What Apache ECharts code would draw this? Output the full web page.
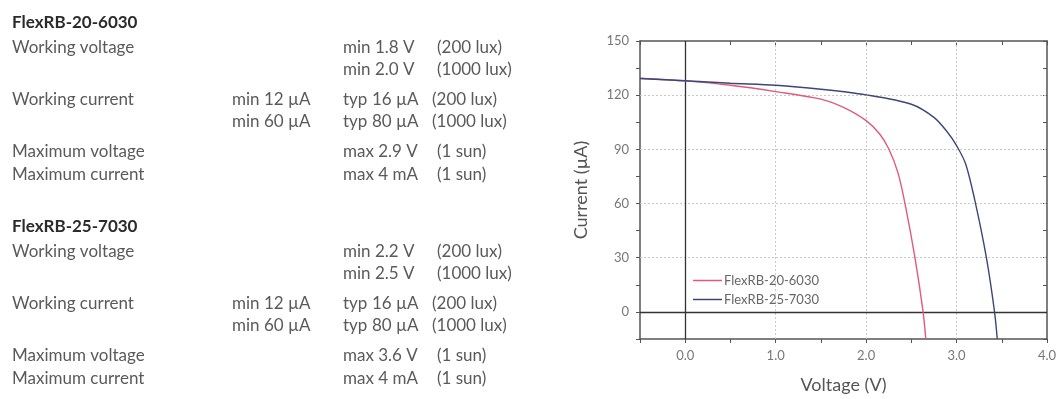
<!DOCTYPE html>
<html>
<head>
<meta charset="utf-8">
<script src="https://cdn.jsdelivr.net/npm/echarts@6/dist/echarts.min.js"></script>
<style>
  html, body { margin: 0; padding: 0; background: #fff; }
  #chart { width: 1060px; height: 399px; }
</style>
</head>
<body>
<div id="chart"></div>
<script>
(function () {
    "use strict";

    /*----spec table----*/
    var models = ['FlexRB-20-6030', 'FlexRB-25-7030'];
    var specLabels = ['Working voltage', '', 'Working current', '', 'Maximum voltage', 'Maximum current'];
    var specMin = ['', '', 'min 12 µA', 'min 60 µA', '', ''];
    var specValues = [
        ['min 1.8 V', 'min 2.0 V', 'typ', 'typ', 'max 2.9 V', 'max 4 mA'],
        ['min 2.2 V', 'min 2.5 V', 'typ', 'typ', 'max 3.6 V', 'max 4 mA']
    ];
    var specTyp = ['', '', '16 µA', '80 µA', '', ''];
    var specCond = ['(200 lux)', '(1000 lux)', '(200 lux)', '(1000 lux)', '(1 sun)', '(1 sun)'];

    /*----IV curves----*/
    var voltage2060 = [-0.5, 0, 0.5, 1.0, 1.5, 1.75, 2.0, 2.15, 2.25, 2.35, 2.43, 2.54, 2.63, 2.66];
    var current2060 = [129.4, 127.9, 125.5, 122, 117.8, 113.2, 105.9, 98.5, 90.3, 77.4, 60, 30, 0, -15];
    var voltage2570 = [-0.5, 0, 0.5, 1.0, 1.5, 2.0, 2.5, 2.75, 2.9, 3.0, 3.1, 3.21, 3.33, 3.42, 3.45];
    var current2570 = [129.2, 128, 126.6, 125.5, 123.3, 120.2, 115, 107.7, 99.5, 92.1, 82, 60, 30, 0, -15];

    var gridX = [1, 2, 3];
    var gridY = [30, 60, 90, 120];

    var font = 'Lato';
    var rowY = [48, 70, 100, 122, 152, 175];
    var blockTop = [23, 227];

    function pair(xs, ys) {
        return xs.map(function (x, i) { return [x, ys[i]]; });
    }

    function txt(x, y, s, f, c) {
        return { type: 'text', x: x, y: y, silent: true,
            style: { text: s, font: f, fill: c, verticalAlign: 'middle' } };
    }

    var graphics = [];
    models.forEach(function (m, b) {
        var off = blockTop[b] - blockTop[0];
        graphics.push(txt(12, blockTop[b], m, 'bold 17px ' + font, '#2b2b2b'));
        for (var i = 0; i < 6; i++) {
            var y = rowY[i] + off;
            if (specLabels[i]) graphics.push(txt(12, y, specLabels[i], '17px ' + font, '#5a5a5a'));
            if (specMin[i]) graphics.push(txt(232, y, specMin[i], '17px ' + font, '#5a5a5a'));
            graphics.push(txt(343, y, specValues[b][i], '17px ' + font, '#5a5a5a'));
            if (specTyp[i]) graphics.push(txt(372, y, specTyp[i], '17px ' + font, '#5a5a5a'));
            graphics.push(txt(specTyp[i] ? 432 : 437, y, specCond[i], '17px ' + font, '#5a5a5a'));
        }
    });

    var gridLines = [];
    gridX.forEach(function (v) {
        gridLines.push({ xAxis: v, lineStyle: { color: '#c8c8c8', type: [2, 2], width: 1 } });
    });
    gridY.forEach(function (v) {
        gridLines.push({ yAxis: v, lineStyle: { color: '#c8c8c8', type: [2, 2], width: 1 } });
    });
    gridLines.push({ xAxis: 0, lineStyle: { color: '#333', type: 'solid', width: 1.3 } });
    gridLines.push({ yAxis: 0, lineStyle: { color: '#333', type: 'solid', width: 1.3 } });

    var axisLine = { show: true, onZero: false, lineStyle: { color: '#555', width: 1.5 } };
    var labelStyle = { color: '#777', fontSize: 13, fontFamily: font };

    var option = {
        animation: false,
        backgroundColor: '#fff',
        textStyle: { fontFamily: font },
        grid: { left: 640, top: 41, right: 13, bottom: 57 },
        legend: {
            orient: 'vertical',
            left: 688,
            top: 269,
            icon: 'rect',
            itemWidth: 29,
            itemHeight: 1.5,
            itemGap: 6,
            textStyle: { color: '#666', fontSize: 13, fontFamily: font, padding: [0, 0, 0, -3] },
            data: models
        },
        xAxis: [{
            type: 'value',
            min: -0.5, max: 4, interval: 0.5,
            name: 'Voltage (V)', nameLocation: 'middle', nameGap: 37,
            nameTextStyle: { color: '#555', fontSize: 18, fontFamily: font },
            axisLine: axisLine,
            axisTick: { show: true, length: 4, lineStyle: { color: '#555' } },
            axisLabel: Object.assign({ margin: 10, showMinLabel: true, showMaxLabel: true, formatter: function (v) {
                return (v >= 0 && Math.abs(v - Math.round(v)) < 1e-6) ? v.toFixed(1) : '';
            } }, labelStyle),
            splitLine: { show: false }
        }, {
            type: 'value', position: 'top',
            min: -0.5, max: 4, interval: 0.5,
            axisLine: axisLine,
            axisTick: { show: true, inside: true, length: 4, lineStyle: { color: '#555' } },
            axisLabel: { show: false },
            splitLine: { show: false }
        }],
        yAxis: [{
            type: 'value',
            min: -15, max: 150, interval: 15,
            name: 'Current (µA)', nameLocation: 'middle', nameGap: 50,
            nameTextStyle: { color: '#555', fontSize: 18, fontFamily: font },
            axisLine: axisLine,
            axisTick: { show: true, length: 4, lineStyle: { color: '#555' } },
            axisLabel: Object.assign({ margin: 11, formatter: function (v) {
                return (v >= 0 && v % 30 === 0) ? String(v) : '';
            } }, labelStyle),
            splitLine: { show: false }
        }, {
            type: 'value', position: 'right',
            min: -15, max: 150, interval: 15,
            axisLine: axisLine,
            axisTick: { show: true, inside: true, length: 4, lineStyle: { color: '#555' } },
            axisLabel: { show: false },
            splitLine: { show: false }
        }],
        series: [{
            name: models[0],
            type: 'line',
            data: pair(voltage2060, current2060),
            smooth: 0.3,
            showSymbol: false,
            lineStyle: { color: '#e05a7c', width: 1.4 },
            itemStyle: { color: '#e05a7c' },
            z: 3,
            markLine: { silent: true, symbol: 'none', label: { show: false }, animation: false, data: gridLines, z: 1 }
        }, {
            name: models[1],
            type: 'line',
            data: pair(voltage2570, current2570),
            smooth: 0.3,
            showSymbol: false,
            lineStyle: { color: '#3d4775', width: 1.4 },
            itemStyle: { color: '#3d4775' },
            z: 3
        }],
        graphic: graphics
    };

    var chart = echarts.init(document.getElementById('chart'), null, { renderer: 'canvas' });
    chart.setOption(option);
})();
</script>
</body>
</html>
